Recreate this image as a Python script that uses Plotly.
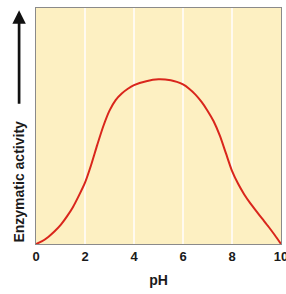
import plotly.graph_objects as go

ph = [0, 0.25, 0.5, 0.75, 1, 1.25, 1.5, 1.75, 2, 2.25, 2.5, 2.75, 3, 3.25, 3.5, 3.75, 4, 4.5, 5,
      5.5, 5.75, 6, 6.25, 6.5, 6.75, 7, 7.25, 7.5, 7.75, 8, 8.25, 8.5, 8.75, 9, 9.25, 9.5, 9.75, 10]
activity = [0, 0.012, 0.03, 0.053, 0.08, 0.115, 0.155, 0.205, 0.26, 0.335, 0.42, 0.5, 0.565, 0.61, 0.638, 0.658, 0.673, 0.69, 0.698,
            0.694, 0.687, 0.676, 0.658, 0.634, 0.603, 0.565, 0.52, 0.46, 0.385, 0.31, 0.255, 0.21, 0.172, 0.138, 0.105, 0.072, 0.037, 0]
x_ticks = [0, 2, 4, 6, 8, 10]

fam = "Liberation Sans, Arial, sans-serif"
tick_font = dict(family=fam, size=13, color="#1a1a1a", weight="bold")
title_font = dict(family=fam, size=14, color="#1a1a1a", weight="bold")
label_font = dict(family=fam, size=14, color="#1a1a1a", weight="bold")

fig = go.Figure()
fig.add_trace(go.Scatter(x=ph, y=activity, mode="lines",
                         line=dict(color="#d9261c", width=2, shape="spline", smoothing=0.7),
                         hoverinfo="skip", showlegend=False, cliponaxis=False))

fig.update_layout(
    width=286, height=294,
    margin=dict(l=36, r=5, t=8, b=50, autoexpand=False),
    paper_bgcolor="white", plot_bgcolor="#fdf0c2",
    xaxis=dict(range=[0, 10], tickvals=x_ticks, ticktext=[str(t) for t in x_ticks],
               showgrid=True, gridcolor="#fffaf0", gridwidth=2,
               showline=True, linecolor="#8a8a8a", linewidth=1, mirror=True,
               zeroline=False, ticks="", tickfont=tick_font, ticklabeloverflow="allow",
               automargin=False,
               title=dict(text="pH", font=title_font, standoff=12)),
    yaxis=dict(range=[0, 1], showgrid=False, showticklabels=False, ticks="",
               showline=True, linecolor="#8a8a8a", linewidth=1, mirror=True, zeroline=False),
    annotations=[
        dict(text="Enzymatic activity", xref="paper", yref="paper", x=-0.069, y=0.265,
             textangle=-90, showarrow=False, font=label_font, xanchor="center", yanchor="middle"),
        dict(text="", xref="paper", yref="paper", x=-0.069, y=0.99, ax=0, ay=95,
             showarrow=True, arrowhead=2, arrowsize=1, arrowwidth=2.7, arrowcolor="#111111"),
    ],
)

fig.write_html("out.html", config={"displayModeBar": False},
               post_script="document.body.style.margin='0';document.body.style.overflow='hidden';")
